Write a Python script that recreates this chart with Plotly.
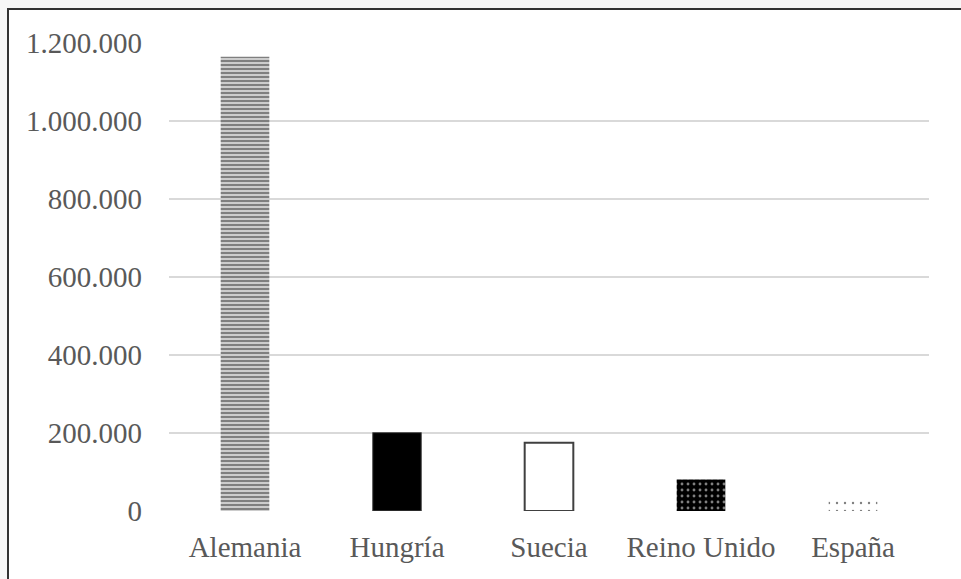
import plotly.graph_objects as go

# Data
paises = ["Alemania", "Hungría", "Suecia", "Reino Unido", "España"]
valores = [1165000, 201000, 175000, 81000, 27000]
tick_vals = [0, 200000, 400000, 600000, 800000, 1000000, 1200000]
tick_text = ["0", "200.000", "400.000", "600.000", "800.000", "1.000.000", "1.200.000"]

# Per-bar fill styles (grayscale hatching)
estilos = [
    dict(shape="-", bg="white", fg="black", size=4, solidity=0.7, line="rgba(0,0,0,0)", lw=0),
    dict(shape="", bg="black", fg="black", size=8, solidity=0.3, line="#555555", lw=1),
    dict(shape="", bg="white", fg="white", size=8, solidity=0.3, line="#404040", lw=2),
    dict(shape=".", bg="black", fg="white", size=6, solidity=0.18, line="rgba(0,0,0,0)", lw=0),
    dict(shape=".", bg="white", fg="black", size=8, solidity=0.07, line="rgba(0,0,0,0)", lw=0),
]

fig = go.Figure()
for pais, valor, est in zip(paises, valores, estilos):
    fig.add_trace(
        go.Bar(
            x=[pais],
            y=[valor],
            width=0.32,
            marker=dict(
                color=est["fg"] if est["shape"] else est["bg"],
                line=dict(color=est["line"], width=est["lw"]),
                pattern=dict(
                    shape=est["shape"],
                    bgcolor=est["bg"],
                    fgcolor=est["fg"],
                    size=est["size"],
                    solidity=est["solidity"],
                    fillmode="overlay",
                ),
            ),
            hoverinfo="x+y",
        )
    )

font_family = "Liberation Serif, Times New Roman, serif"

fig.update_layout(
    width=961,
    height=579,
    margin=dict(l=169, r=32, t=43, b=68),
    paper_bgcolor="#f7f7f7",
    plot_bgcolor="white",
    showlegend=False,
    barmode="overlay",
    font=dict(family=font_family, size=29, color="#595959"),
    xaxis=dict(
        categoryorder="array",
        categoryarray=paises,
        showgrid=False,
        showline=False,
        zeroline=False,
        ticks="",
        ticklabelstandoff=16,
        tickfont=dict(family=font_family, size=29, color="#595959"),
    ),
    yaxis=dict(
        range=[0, 1200000],
        tickvals=tick_vals,
        ticktext=tick_text,
        showgrid=True,
        gridcolor="#d9d9d9",
        gridwidth=1.5,
        zeroline=False,
        showline=False,
        ticks="",
        ticklabelstandoff=26,
        tickfont=dict(family=font_family, size=29, color="#595959"),
    ),
    shapes=[
        dict(
            type="rect",
            xref="paper",
            yref="paper",
            x0=(8 - 169) / 760,
            x1=1.3,
            y0=-0.5,
            y1=1 + (43 - 9) / 468,
            line=dict(color="#333333", width=2),
            fillcolor="white",
            layer="below",
        )
    ],
)

fig.write_html("out.html")
